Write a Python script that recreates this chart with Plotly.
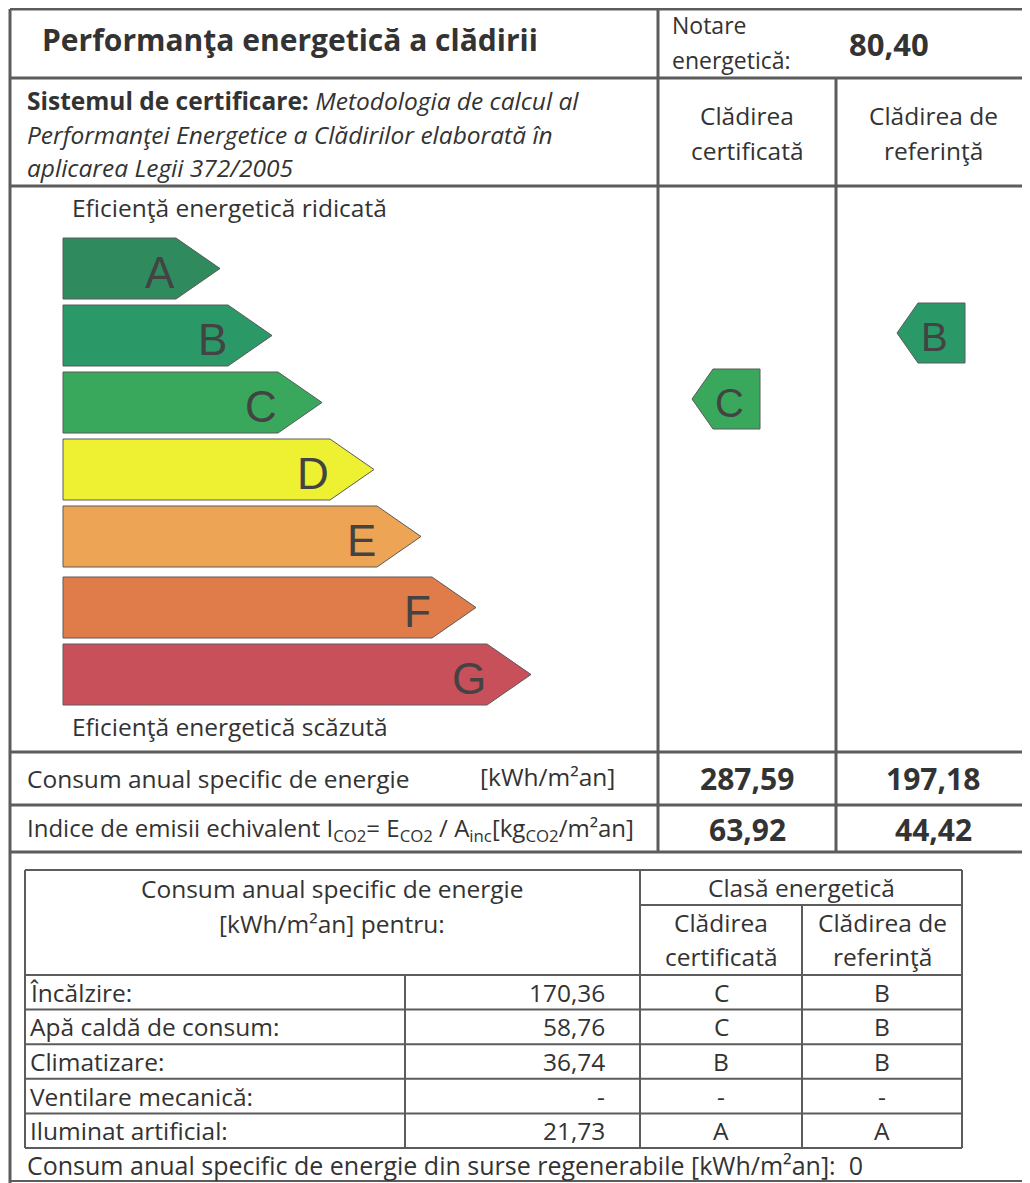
import plotly.graph_objects as go

# ---------------- data ----------------
classes = ["A", "B", "C", "D", "E", "F", "G"]
class_lengths = [113, 165, 215, 267, 314, 369, 424]   # rectangular part length of each class bar
class_colors = ["#2f8a5e", "#2b9868", "#3aa85c", "#eef032", "#eea455", "#e07b4a", "#c8505a"]

certified_class = "C"
reference_class = "B"
energy_rating = "80,40"

consum_values = ["287,59", "197,18"]
emisii_values = ["63,92", "44,42"]

breakdown_labels = ["Încălzire:", "Apă caldă de consum:", "Climatizare:", "Ventilare mecanică:", "Iluminat artificial:"]
breakdown_values = ["170,36", "58,76", "36,74", "-", "21,73"]
breakdown_cert = ["C", "C", "B", "-", "A"]
breakdown_ref = ["B", "B", "B", "-", "A"]
renewable_value = "0"

# ---------------- figure ----------------
W, H = 1030, 1183
OFF = 8  # page body margin
FONT = "Open Sans"
TXT = "#333333"
LINE = "#5c5c5c"
BODY = 24.5

fig = go.Figure()
shapes = []
ann = []


def hline(y, x0, x1, w=2):
    shapes.append(dict(type="line", x0=x0, x1=x1, y0=y, y1=y, xref="x", yref="y",
                       line=dict(color=LINE, width=w)))


def vline(x, y0, y1, w=2):
    shapes.append(dict(type="line", x0=x, x1=x, y0=y0, y1=y1, xref="x", yref="y",
                       line=dict(color=LINE, width=w)))


def text(x, y, s, size=BODY, anchor="left", bold=False, italic=False, color=TXT, family=FONT):
    if bold:
        s = "<b>" + s + "</b>"
    if italic:
        s = "<i>" + s + "</i>"
    ann.append(dict(x=x, y=y, xref="x", yref="y", text=s, showarrow=False,
                    xanchor=anchor, yanchor="middle",
                    font=dict(family=family, size=size, color=color)))


# frame lines
hline(9, 10, W, 3)
vline(10, 9, H, 3)
hline(78, 10, W, 3)
hline(186, 10, W, 3)
hline(752, 10, W, 3)
hline(805, 10, W, 3)
hline(852, 10, W, 3)
hline(1181, 10, W, 2)
vline(658, 9, 852, 3)
vline(836, 78, 852, 3)

# header texts
text(40, 39, "Performanţa energetică a clădirii", size=30, bold=True)
text(670, 25, "Notare", size=23)
text(670, 60, "energetică:", size=23)
text(889, 44, energy_rating, size=31, bold=True, anchor="center")

text(25, 100, "<b>Sistemul de certificare:</b> <i>Metodologia de calcul al</i>", size=BODY)
text(25, 134, "Performanţei Energetice a Clădirilor elaborată în", size=BODY, italic=True)
text(25, 167, "aplicarea Legii 372/2005", size=BODY, italic=True)

text(747, 115, "Clădirea", size=BODY, anchor="center")
text(747, 150, "certificată", size=BODY, anchor="center")
text(933, 115, "Clădirea de", size=BODY, anchor="center")
text(933, 150, "referinţă", size=BODY, anchor="center")

text(70, 207, "Eficienţă energetică ridicată", size=BODY)
text(70, 726, "Eficienţă energetică scăzută", size=BODY)

# class bars
X0 = 63
TIP = 44
BAR_H = 61
row_top = {}
for i, (c, L, col) in enumerate(zip(classes, class_lengths, class_colors)):
    top = 238 + i * 67 + (4 if i >= 5 else 0)
    bot = top + BAR_H
    row_top[c] = top
    xe = X0 + L
    xs = [X0, xe, xe + TIP, xe, X0, X0]
    ys = [top, top, (top + bot) / 2, bot, bot, top]
    fig.add_trace(go.Scatter(x=xs, y=ys, mode="lines", fill="toself", fillcolor=col,
                             line=dict(color="#5a5a5a", width=1), hoverinfo="skip",
                             showlegend=False))
    ann.append(dict(x=xe + 1, y=(top + bot) / 2 + 4, xref="x", yref="y", text=c,
                    showarrow=False, xanchor="right", yanchor="middle",
                    font=dict(family="Liberation Sans", size=44, color="#434343")))


# indicator arrows
def indicator(cls, x_rect0, x_rect1, dy):
    i = classes.index(cls)
    top = row_top[cls] + dy
    bot = top + 60
    tipx = x_rect0 - 21
    xs = [x_rect1, x_rect0, tipx, x_rect0, x_rect1, x_rect1]
    ys = [top, top, (top + bot) / 2, bot, bot, top]
    fig.add_trace(go.Scatter(x=xs, y=ys, mode="lines", fill="toself", fillcolor=class_colors[i],
                             line=dict(color="#5a5a5a", width=1), hoverinfo="skip",
                             showlegend=False))
    ann.append(dict(x=(tipx + x_rect1) / 2 + 3, y=(top + bot) / 2 + 4, xref="x", yref="y",
                    text=cls, showarrow=False, xanchor="center", yanchor="middle",
                    font=dict(family="Liberation Sans", size=40, color="#434343")))


indicator(certified_class, 713, 760, -3)
indicator(reference_class, 918, 965, -2)

# consumption rows
text(25, 778, "Consum anual specific de energie", size=BODY)
text(617, 776, "[kWh/m²an]", size=BODY, anchor="right")
text(747, 778, consum_values[0], size=30, bold=True, anchor="center")
text(933, 778, consum_values[1], size=30, bold=True, anchor="center")

text(25, 829, "Indice de emisii echivalent I<sub>CO2</sub>= E<sub>CO2</sub> / A<sub>inc</sub>[kg<sub>CO2</sub>/m²an]", size=24)
text(747, 829, emisii_values[0], size=30, bold=True, anchor="center")
text(933, 829, emisii_values[1], size=30, bold=True, anchor="center")

# bottom table
TL, TR, TT, TB = 25, 962, 870, 1148
hline(TT, TL, TR, 2)
hline(TB, TL, TR, 2)
vline(TL, TT, TB, 2)
vline(TR, TT, TB, 2)
vline(640, TT, TB, 2)
hline(905, 640, TR, 2)
vline(802, 905, TB, 2)
hline(975, TL, TR, 2)
vline(405, 975, TB, 2)

text(332, 888, "Consum anual specific de energie", size=BODY, anchor="center")
text(332, 923, "[kWh/m²an] pentru:", size=BODY, anchor="center")
text(801, 887, "Clasă energetică", size=BODY, anchor="center")
text(721, 922, "Clădirea", size=BODY, anchor="center")
text(721, 956, "certificată", size=BODY, anchor="center")
text(882, 922, "Clădirea de", size=BODY, anchor="center")
text(882, 956, "referinţă", size=BODY, anchor="center")

row_h = (TB - 975) / len(breakdown_labels)
for k, (lab, val, cc, rc) in enumerate(zip(breakdown_labels, breakdown_values, breakdown_cert, breakdown_ref)):
    y0 = 975 + k * row_h
    yc = y0 + row_h / 2
    if k > 0:
        hline(y0, TL, TR, 2)
    text(28, yc, lab, size=BODY)
    text(607, yc, val, size=BODY, anchor="right")
    text(721, yc, cc, size=BODY, anchor="center")
    text(882, yc, rc, size=BODY, anchor="center")

text(25, 1165, "Consum anual specific de energie din surse regenerabile [kWh/m²an]:  " + renewable_value, size=25)

fig.update_layout(
    width=W - OFF, height=H - OFF,
    margin=dict(l=0, r=0, t=0, b=0),
    paper_bgcolor="white", plot_bgcolor="white",
    xaxis=dict(range=[OFF, W], visible=False, fixedrange=True),
    yaxis=dict(range=[H, OFF], visible=False, fixedrange=True),
    shapes=shapes, annotations=ann, showlegend=False,
)

fig.write_html("out.html")
